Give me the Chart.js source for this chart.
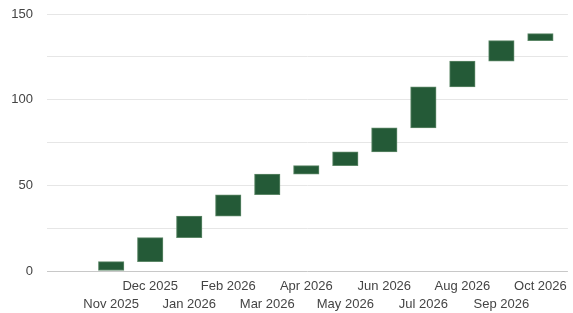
<!DOCTYPE html>
<html>
<head>
<meta charset="utf-8">
<script src="https://cdn.jsdelivr.net/npm/chart.js@4"></script>
<style>
  html, body { margin: 0; padding: 0; background: #fff; }
  #wrap { width: 573px; height: 313px; }
</style>
</head>
<body>
<div id="wrap"><canvas id="waterfall" width="573" height="313"></canvas></div>
<script>
// Waterfall: each month floats from the previous running total to the new one
const months = ["Nov 2025", "Dec 2025", "Jan 2026", "Feb 2026", "Mar 2026", "Apr 2026",
  "May 2026", "Jun 2026", "Jul 2026", "Aug 2026", "Sep 2026", "Oct 2026"]
const startVals = [0, 5.5, 19.5, 32, 44.5, 56.5, 61.5, 69.5, 83.5, 107.5, 122.5, 134.5]
const endVals = [5.5, 19.5, 32, 44.5, 56.5, 61.5, 69.5, 83.5, 107.5, 122.5, 134.5, 138.5]
const yTicks = [0, 25, 50, 75, 100, 125, 150]

const positions = months.map((m, i) => i + 1)
const barData = positions.map((x, i) => ({ x: x, y: [startVals[i], endVals[i]] }))

Chart.defaults.font.family = "'Liberation Sans', Arial, sans-serif"
Chart.defaults.font.size = 13
Chart.defaults.color = "#444"

new Chart(document.getElementById("waterfall"), {
  type: "bar",
  data: {
    datasets: [
      {
        data: barData,
        backgroundColor: "#245a37",
        borderColor: "#5c8767",
        borderWidth: 1,
        borderSkipped: false,
        barThickness: 25.5,
      },
    ],
  },
  options: {
    responsive: false,
    animation: false,
    layout: { padding: { top: 14, right: 4, bottom: 0, left: 0 } },
    plugins: {
      legend: { display: false },
      tooltip: { enabled: false },
    },
    scales: {
      x: {
        type: "linear",
        offset: false,
        min: -0.645,
        max: 12.705,
        afterBuildTicks: (scale) => {
          scale.ticks = positions.map((v) => ({ value: v }))
        },
        afterFit: (scale) => {
          scale.height = 42
        },
        ticks: {
          autoSkip: false,
          maxRotation: 0,
          minRotation: 0,
          padding: 6,
          font: { lineHeight: 1.42 },
          callback: (value, index) => (index % 2 === 0 ? ["", months[index]] : months[index]),
        },
        grid: { display: false, drawTicks: false },
        border: { display: false },
      },
      y: {
        min: 0,
        max: 150,
        afterBuildTicks: (scale) => {
          scale.ticks = yTicks.map((v) => ({ value: v }))
        },
        afterFit: (scale) => {
          scale.width = 47
        },
        ticks: {
          padding: 0,
          callback: (value) => (value % 50 === 0 ? value : ""),
        },
        grid: {
          drawTicks: true,
          tickLength: 14,
          tickColor: "rgba(0,0,0,0)",
          color: (ctx) => (ctx.tick && ctx.tick.value === 0 ? "#c8c8c8" : "#e6e6e6"),
        },
        border: { display: false },
      },
    },
  },
})
</script>
</body>
</html>
